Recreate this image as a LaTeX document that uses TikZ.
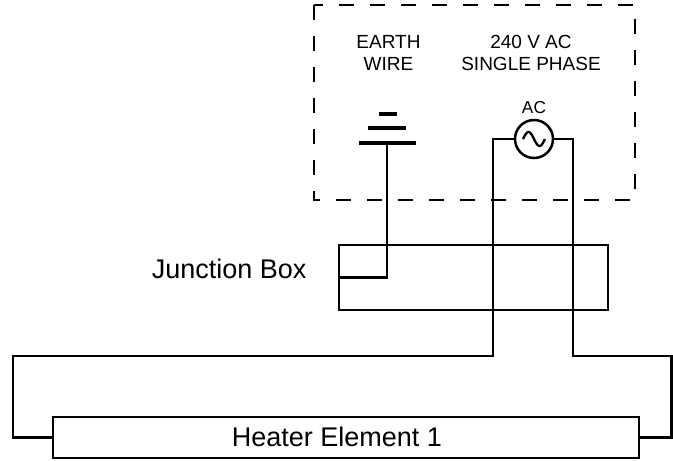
\documentclass[tikz,border=0pt]{standalone}
\usepackage{fontspec}
\setmainfont{Liberation Sans}
\usetikzlibrary{positioning}

\begin{document}
\begin{tikzpicture}[x=1pt, y=-1pt, line width=2.5pt, line join=miter,
	box/.style={rectangle, draw, inner sep=0pt, outer sep=0pt},
	big text/.style={font=\fontsize{27}{31}\selectfont},
	small text/.style={align=center, font=\fontsize{19}{21.5}\selectfont},
	source/.style={circle, draw, minimum size=38pt, inner sep=0pt, outer sep=0pt},
	bar/.style={line width=4pt}]
	\useasboundingbox (0,0) rectangle (673,461);
	% supply enclosure
	\draw[dash pattern=on 15pt off 16pt, line width=2.5pt] (314,5) rectangle (635,200);
	\node[small text] (earthlbl) at (388.5,53) {EARTH\\WIRE};
	\node[small text] (supplylbl) at (531,53) {240 V AC\\SINGLE PHASE};
	% boxes
	\node[box, minimum width=269pt, minimum height=65pt] (jbox) at (473.5,277.5) {};
	\node[box, minimum width=586pt, minimum height=41pt] (heater) at (346,437.5) {};
	\node[big text] (heaterlbl) at (337,437) {Heater Element 1};
	\node[big text, anchor=east] (jlbl) at (311,269) {Junction Box};
	% AC source
	\node[source, label={[font=\fontsize{17.3}{20}\selectfont, label distance=2pt]above:AC}] (src) at (534,139) {};
	\draw[line width=2.3pt] plot[domain=-1:1, samples=40, smooth] ({534+\x*11},{139+7*sin(\x*180)});
	% earth
	\coordinate (gnd) at (387,143);
	\draw[bar] (359,143) -- (416,143);
	\draw[bar] (368,128) -- (406,128);
	\draw[bar] (379,114) -- (397,114);
	\draw (gnd) |- (jbox.west);
	% wiring
	\coordinate (la) at (493,139);
	\coordinate (ra) at (573,139);
	\draw (src.west) -- (la) -- (493,356) -- (13,356) |- (heater.west);
	\draw (src.east) -- (ra) -- (573,356) -- (671.5,356) |- (heater.east);
\end{tikzpicture}
\end{document}
